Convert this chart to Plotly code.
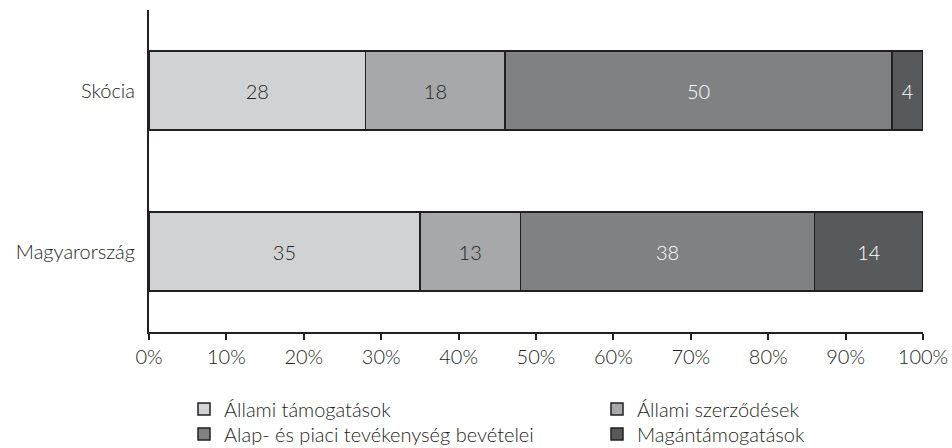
import plotly.graph_objects as go

countries = ["Magyarország", "Skócia"]
series_names = [
    "Állami támogatások",
    "Állami szerződések",
    "Alap- és piaci tevékenység bevételei",
    "Magántámogatások",
]
allami_tamogatasok = [35, 28]
allami_szerzodesek = [13, 18]
alap_piaci = [38, 50]
magantamogatasok = [14, 4]
tick_values = [0, 10, 20, 30, 40, 50, 60, 70, 80, 90, 100]
tick_labels = [f"{v}%" for v in tick_values]

series_values = [allami_tamogatasok, allami_szerzodesek, alap_piaci, magantamogatasok]
fill_colors = ["#d1d2d4", "#a7a8aa", "#808183", "#58595b"]
text_colors = ["#231f20", "#231f20", "#ffffff", "#ffffff"]
# one legend per entry so the 2x2 key grid can be spaced freely
legend_ids = ["legend", "legend2", "legend3", "legend4"]
edge = "#231f20"
font_family = "Lato, Open Sans, sans-serif"
font_weight = 300

fig = go.Figure()
for name, vals, fc, tc, lg in zip(series_names, series_values, fill_colors, text_colors, legend_ids):
    fig.add_trace(go.Bar(
        y=countries,
        x=vals,
        name=name,
        orientation="h",
        width=0.49,
        marker=dict(color=fc, line=dict(color=edge, width=1.5)),
        text=[str(v) for v in vals],
        textposition="inside",
        insidetextanchor="middle",
        textfont=dict(color=tc, size=20, family=font_family, weight=font_weight),
        hoverinfo="x+y+name",
        legend=lg,
    ))

legend_common = dict(
    orientation="v",
    xref="container",
    yref="container",
    xanchor="left",
    yanchor="middle",
    font=dict(size=20, weight=font_weight, color="#231f20"),
    itemwidth=30,
    bgcolor="rgba(0,0,0,0)",
)
col_x = [184 / 952, 597 / 952]
row_y = [1 - 409 / 448, 1 - 434 / 448]

fig.update_layout(
    barmode="stack",
    width=952,
    height=448,
    margin=dict(l=149, r=29, t=10, b=116, autoexpand=False),
    paper_bgcolor="white",
    plot_bgcolor="white",
    font=dict(family=font_family, size=20, color="#231f20", weight=font_weight),
    xaxis=dict(
        range=[0, 100],
        tickvals=tick_values,
        ticktext=tick_labels,
        showgrid=False,
        zeroline=False,
        showline=True,
        linecolor=edge,
        linewidth=2,
        ticks="outside",
        ticklen=6,
        tickwidth=1.5,
        tickcolor=edge,
        tickfont=dict(size=20, weight=font_weight),
        automargin=False,
    ),
    yaxis=dict(
        range=[-0.5, 1.5],
        showgrid=False,
        zeroline=False,
        showline=True,
        linecolor=edge,
        linewidth=2,
        ticks="",
        ticklabelstandoff=8,
        tickfont=dict(size=20, weight=font_weight),
        automargin=False,
    ),
    legend=dict(legend_common, x=col_x[0], y=row_y[0]),
    legend2=dict(legend_common, x=col_x[1], y=row_y[0]),
    legend3=dict(legend_common, x=col_x[0], y=row_y[1]),
    legend4=dict(legend_common, x=col_x[1], y=row_y[1]),
    showlegend=True,
)

fig.write_html("out.html")
